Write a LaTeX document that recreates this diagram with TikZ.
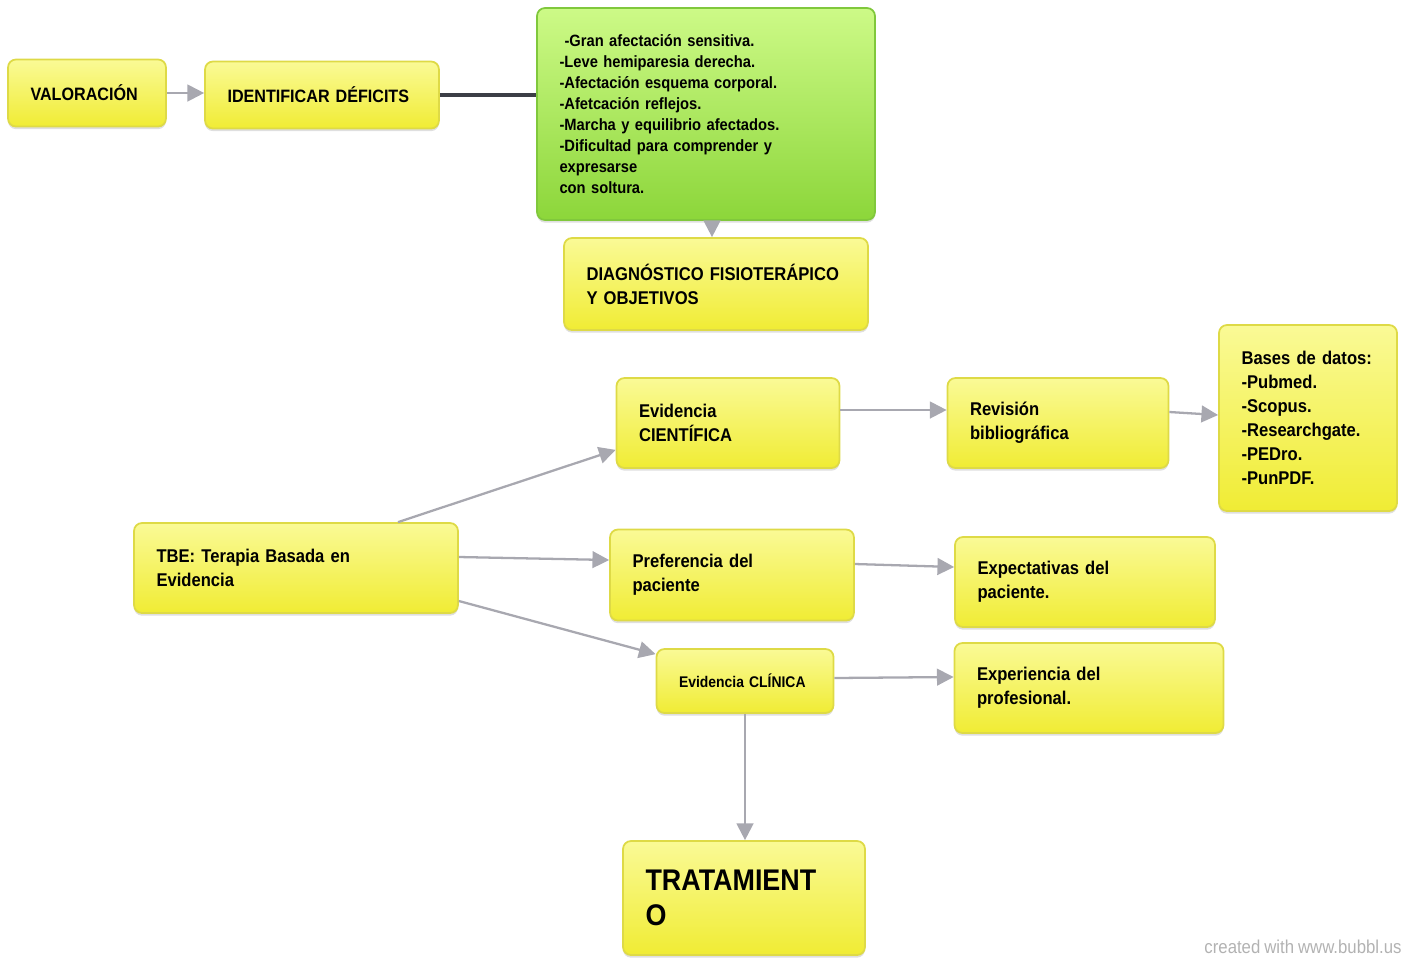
\documentclass[tikz,border=0pt]{standalone}
\usepackage{fontspec}
\setmainfont{Liberation Sans}[FakeStretch=0.9, WordSpace=0.85]
\usepackage{tikz}
\usetikzlibrary{arrows.meta,positioning,calc,shadows}
\definecolor{ytop}{RGB}{250,250,150}
\definecolor{ybot}{RGB}{240,236,52}
\definecolor{ybord}{RGB}{222,218,70}
\definecolor{gtop}{RGB}{205,250,135}
\definecolor{gbot}{RGB}{140,214,58}
\definecolor{gbord}{RGB}{128,200,60}
\definecolor{agray}{RGB}{168,168,176}
\definecolor{dline}{RGB}{60,62,70}
\tikzset{
  ybox/.style={draw=ybord, line width=1pt, top color=ytop, bottom color=ybot, rounded corners=4.5pt,
    inner xsep=0.45cm, align=left, font=\bfseries\fontsize{10.5}{13.6}\selectfont,
    drop shadow={opacity=0.25, shadow xshift=0pt, shadow yshift=-1.5pt}},
  gbox/.style={ybox, draw=gbord, top color=gtop, bottom color=gbot},
  arr/.style={-{Triangle[length=9.5pt,width=9.5pt]}, line width=1.3pt, agray},
}
\begin{document}
\begin{tikzpicture}[x=0.02cm, y=-0.02cm]
  \useasboundingbox (0,0) rectangle (1407,958);

  % top row
  \node[ybox, text width=2.26cm, minimum height=1.34cm, font=\bfseries\fontsize{10.2}{13}\selectfont] (val) at (87,93) {VALORACIÓN};
  \node[ybox, text width=3.78cm, minimum height=1.34cm, font=\bfseries\fontsize{10.2}{13}\selectfont] (ident) at (322,95) {IDENTIFICAR DÉFICITS};
  \node[gbox, text width=5.86cm, minimum height=4.24cm, font=\bfseries\fontsize{9.3}{11.9}\selectfont] (deficits) at (706,114)
    {\hspace*{0.1cm}-Gran afectación sensitiva.\\-Leve hemiparesia derecha.\\-Afectación esquema corporal.\\-Afetcación reflejos.\\-Marcha y equilibrio afectados.\\-Dificultad para comprender y\\expresarse\\con soltura.};
  \node[ybox, text width=5.18cm, minimum height=1.84cm] (diag) at (716,284) {DIAGNÓSTICO FISIOTERÁPICO\\Y OBJETIVOS};

  \draw[arr] (val.east) -- (val.east -| ident.west);
  \draw[dline, line width=2.4pt] (ident.east) -- (ident.east -| deficits.west);
  \draw[arr] ($(deficits.south)+(6,0)$) -- ($(diag.north)+(-4,0)$);

  % evidence branches
  \node[ybox, text width=5.58cm, minimum height=1.8cm] (tbe) at (296,568) {TBE: Terapia Basada en\\Evidencia};
  \node[ybox, text width=3.56cm, minimum height=1.8cm] (cient) at (728,423) {Evidencia\\CIENTÍFICA};
  \node[ybox, text width=3.52cm, minimum height=1.8cm] (rev) at (1058,423) {Revisión\\bibliográfica};
  \node[ybox, text width=2.66cm, minimum height=3.72cm] (bases) at (1308,418) {Bases de datos:\\-Pubmed.\\-Scopus.\\-Researchgate.\\-PEDro.\\-PunPDF.};
  \node[ybox, text width=3.98cm, minimum height=1.82cm] (pref) at (732,575) {Preferencia del\\paciente};
  \node[ybox, text width=4.3cm, minimum height=1.8cm] (expect) at (1085,582) {Expectativas del\\paciente.};
  \node[ybox, text width=2.64cm, minimum height=1.28cm, font=\bfseries\fontsize{8.8}{11}\selectfont] (clin) at (745,681) {Evidencia CLÍNICA};
  \node[ybox, text width=4.48cm, minimum height=1.8cm] (exper) at (1089,688) {Experiencia del\\profesional.};
  \node[ybox, text width=3.94cm, minimum height=2.28cm, font=\bfseries\fontsize{17}{19.8}\selectfont] (trat) at (744,898) {TRATAMIENT\\O};

  \draw[arr] ($(tbe.north)+(102,0)$) -- ($(cient.south west)+(0,-19)$);
  \draw[arr] ($(tbe.east)+(0,-11)$) -- ($(pref.west)+(0,-15)$);
  \draw[arr] ($(tbe.east)+(0,33)$) -- ($(clin.north west)+(0,6)$);
  \draw[arr] ($(cient.east)+(0,-13)$) -- ($(rev.west)+(0,-13)$);
  \draw[arr] ($(rev.east)+(0,-11)$) -- ($(bases.west)+(0,-3)$);
  \draw[arr] ($(pref.east)+(0,-11)$) -- ($(expect.west)+(0,-15)$);
  \draw[arr] ($(clin.east)+(0,-3)$) -- ($(exper.west)+(0,-11)$);
  \draw[arr] (clin.south) -- (clin.south |- trat.north);

  \node[text=gray!60, font=\fontsize{10.6}{12}\selectfont] (credit) at (1303,947) {created with www.bubbl.us};
\end{tikzpicture}
\end{document}
